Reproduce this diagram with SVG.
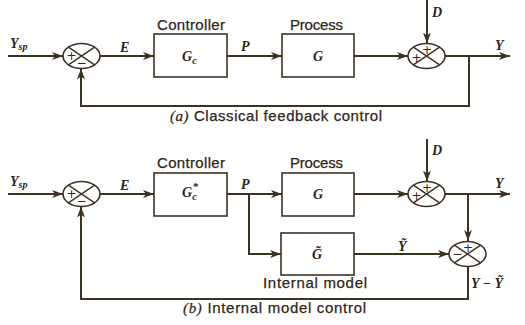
<svg xmlns="http://www.w3.org/2000/svg" width="525" height="325" viewBox="0 0 525 325">
<style>
.ln{fill:none;stroke:#3b3222;stroke-width:2}
.bx{fill:#fff;stroke:#3b3222;stroke-width:1.6}
.sj{fill:#fff;stroke:#3b3222;stroke-width:1.6}
.x{stroke:#3b3222;stroke-width:1.4}
.m{font-family:"Liberation Serif","DejaVu Serif",serif;font-weight:bold;font-style:italic;fill:#2e2618;font-size:14px}
.s{font-family:"Liberation Sans",Arial,sans-serif;fill:#2e2618;font-size:15px;stroke:#2e2618;stroke-width:0.25}
.sg{font-family:"DejaVu Sans",sans-serif;fill:#2e2618;font-size:12px;text-anchor:middle}
.c{font-family:"Liberation Sans",Arial,sans-serif;fill:#2e2618;font-size:15px;stroke:#2e2618;stroke-width:0.25}
</style>
<defs>
<marker id="ar" markerWidth="12" markerHeight="10" refX="11" refY="5" orient="auto" markerUnits="userSpaceOnUse">
<path d="M0,1 L11,5 L0,9 L3,5 Z" fill="#3b3222"/>
</marker>
</defs>
<rect width="525" height="325" fill="#fff"/>

<g id="connectors">
<path class="ln" d="M8 56 H63" marker-end="url(#ar)"/>
<path class="ln" d="M100 56 H154" marker-end="url(#ar)"/>
<path class="ln" d="M227 56 H282" marker-end="url(#ar)"/>
<path class="ln" d="M354 56 H408" marker-end="url(#ar)"/>
<path class="ln" d="M427 0 V43.5" marker-end="url(#ar)"/>
<path class="ln" d="M445 56 H510" marker-end="url(#ar)"/>
<path class="ln" d="M469 56 V106 H81 V68.5" marker-end="url(#ar)"/>

<path class="ln" d="M8 194 H63" marker-end="url(#ar)"/>
<path class="ln" d="M100 194 H154" marker-end="url(#ar)"/>
<path class="ln" d="M227 194 H282" marker-end="url(#ar)"/>
<path class="ln" d="M249 194 V254 H281" marker-end="url(#ar)"/>
<path class="ln" d="M354 194 H408" marker-end="url(#ar)"/>
<path class="ln" d="M427 139 V181.5" marker-end="url(#ar)"/>
<path class="ln" d="M445 194 H510" marker-end="url(#ar)"/>
<path class="ln" d="M468 194 V241" marker-end="url(#ar)"/>
<path class="ln" d="M354 254 H449" marker-end="url(#ar)"/>
<path class="ln" d="M468 267 V299 H81 V206.5" marker-end="url(#ar)"/>
</g>

<!-- Diagram (a) -->
<g id="sum1a">
<ellipse class="sj" cx="81.5" cy="56" rx="18.5" ry="12.5"/>
<path class="x" d="M68.4 47.2 L94.6 64.8 M68.4 64.8 L94.6 47.2"/>
<text class="sg" x="71.5" y="60">+</text>
<text class="sg" x="81.5" y="67">−</text>
</g>
<g id="controller_a">
<rect class="bx" x="154" y="34" width="73" height="43"/>
<text class="s" x="157" y="30" textLength="68" lengthAdjust="spacing">Controller</text>
<text class="m" x="182" y="61">G<tspan font-size="10" dy="3">c</tspan></text>
</g>
<g id="process_a">
<rect class="bx" x="282" y="34" width="72" height="43"/>
<text class="s" x="290" y="30" textLength="53" lengthAdjust="spacing">Process</text>
<text class="m" x="318" y="61" text-anchor="middle">G</text>
</g>
<g id="sum2a">
<ellipse class="sj" cx="426.5" cy="56" rx="18.5" ry="12.5"/>
<path class="x" d="M413.4 47.2 L439.6 64.8 M413.4 64.8 L439.6 47.2"/>
<text class="sg" x="427" y="54">+</text>
<text class="sg" x="416.5" y="62">+</text>
</g>
<g id="labels_a">
<text class="m" x="10" y="48">Y<tspan font-size="10" dy="2">sp</tspan></text>
<text class="m" x="120" y="52">E</text>
<text class="m" x="241" y="51">P</text>
<text class="m" x="432" y="17" font-size="13">D</text>
<text class="m" x="495" y="50">Y</text>
<text class="c" x="170" y="121" textLength="212" lengthAdjust="spacing"><tspan font-family="Liberation Serif,serif" font-style="italic">(a)</tspan> Classical feedback control</text>
</g>

<!-- Diagram (b) -->
<g id="sum1b">
<ellipse class="sj" cx="81.5" cy="194" rx="18.5" ry="12.5"/>
<path class="x" d="M68.4 185.2 L94.6 202.8 M68.4 202.8 L94.6 185.2"/>
<text class="sg" x="71.5" y="198">+</text>
<text class="sg" x="81.5" y="205">−</text>
</g>
<g id="controller_b">
<rect class="bx" x="154" y="173" width="73" height="43"/>
<text class="s" x="157" y="168" textLength="68" lengthAdjust="spacing">Controller</text>
<text class="m" x="182" y="197">G<tspan font-size="10" dy="3">c</tspan><tspan font-size="11" dx="-4" dy="-10">*</tspan></text>
</g>
<g id="process_b">
<rect class="bx" x="282" y="173" width="72" height="43"/>
<text class="s" x="290" y="168" textLength="53" lengthAdjust="spacing">Process</text>
<text class="m" x="318" y="199" text-anchor="middle">G</text>
</g>
<g id="model_b">
<rect class="bx" x="281" y="233" width="73" height="42"/>
<text class="m" x="317" y="259" text-anchor="middle">G̃</text>
<text class="s" x="263" y="288" textLength="104" lengthAdjust="spacing">Internal model</text>
</g>
<g id="sum2b">
<ellipse class="sj" cx="426.5" cy="194" rx="18.5" ry="12.5"/>
<path class="x" d="M413.4 185.2 L439.6 202.8 M413.4 202.8 L439.6 185.2"/>
<text class="sg" x="427" y="192">+</text>
<text class="sg" x="416.5" y="200">+</text>
</g>
<g id="sum3b">
<ellipse class="sj" cx="467.5" cy="254" rx="18.5" ry="12.5"/>
<path class="x" d="M454.4 245.2 L480.6 262.8 M454.4 262.8 L480.6 245.2"/>
<text class="sg" x="468" y="252">+</text>
<text class="sg" x="457.5" y="258">−</text>
</g>
<g id="labels_b">
<text class="m" x="10" y="186">Y<tspan font-size="10" dy="2">sp</tspan></text>
<text class="m" x="120" y="190">E</text>
<text class="m" x="241" y="189">P</text>
<text class="m" x="432" y="155" font-size="13">D</text>
<text class="m" x="495" y="188">Y</text>
<text class="m" x="398" y="251">Ỹ</text>
<text class="m" x="471" y="288">Y − Ỹ</text>
<text class="c" x="183" y="313" textLength="183" lengthAdjust="spacing"><tspan font-family="Liberation Serif,serif" font-style="italic">(b)</tspan> Internal model control</text>
</g>
</svg>
